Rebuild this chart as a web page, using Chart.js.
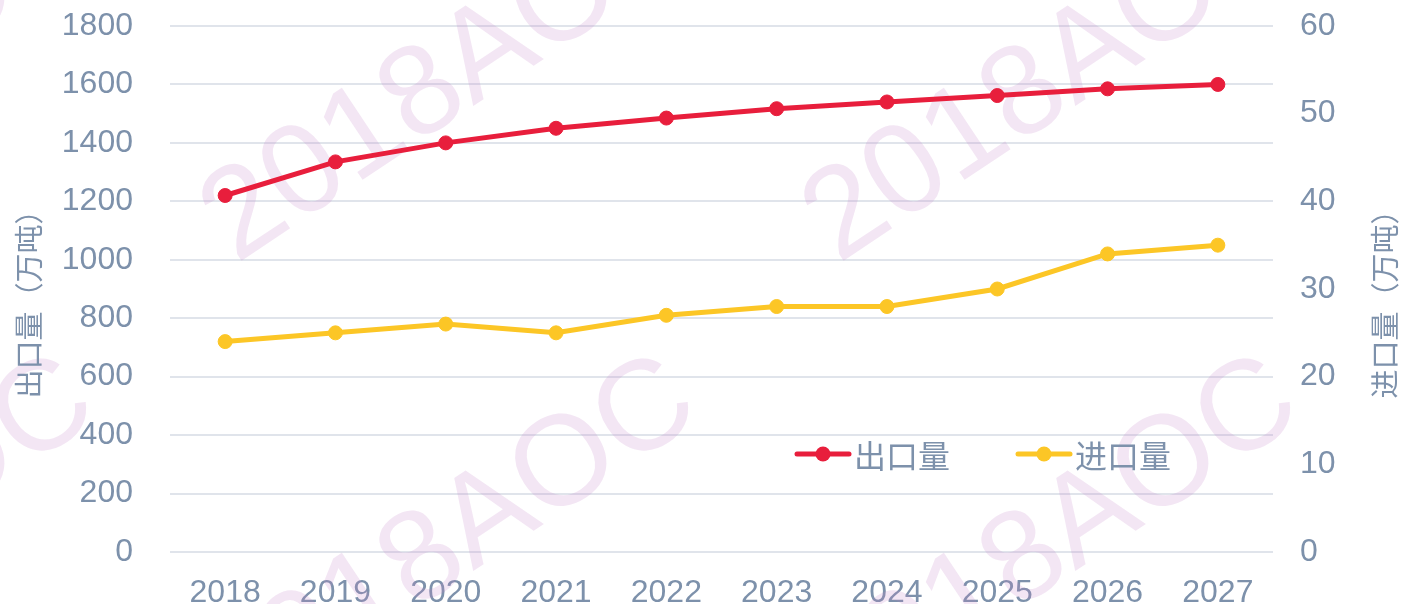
<!DOCTYPE html>
<html>
<head>
<meta charset="utf-8">
<script src="https://cdn.jsdelivr.net/npm/chart.js@4/dist/chart.umd.min.js"></script>
<style>
html,body{margin:0;padding:0;background:#ffffff;}
#wrap{width:1403px;height:604px;position:relative;}
canvas{display:block;}
</style>
</head>
<body>
<div id="wrap"><canvas id="c" width="1403" height="604"></canvas></div>
<script>
// ---- data ----
const categories = ['2018','2019','2020','2021','2022','2023','2024','2025','2026','2027'];
const exportValues = [1220, 1335, 1400, 1450, 1485, 1517, 1540, 1562, 1585, 1600];
const importValues = [24, 25, 26, 25, 27, 28, 28, 30, 34, 35];
const seriesNames = ['出口量', '进口量'];
const leftAxisTitle = '出口量（万吨）';
const rightAxisTitle = '进口量（万吨）';
const leftAxisRange = [0, 1800, 200];
const rightAxisRange = [0, 60, 10];
const watermarkText = '2018AOC';

// ---- style ----
const TEXT_COLOR = '#7d91ab';
const GRID_COLOR = '#e0e4eb';
const RED = '#e81e3c';
const YELLOW = '#fcc626';
const LATIN = '"Liberation Sans", Arial, "Noto Sans CJK SC", sans-serif';
const CJK = '"Noto Sans CJK SC", "Liberation Sans", sans-serif';

const watermarkPlugin = {
  id: 'watermark',
  beforeDatasetsDraw(chart) {
    const ctx = chart.ctx;
    const size = 128;
    const angle = -33.7 * Math.PI / 180;
    const xs = [-184, 418, 1020];
    const ys = [88, 553];
    ctx.save();
    ctx.font = size + 'px ' + LATIN;
    ctx.fillStyle = 'rgba(195,130,200,0.20)';
    ctx.textBaseline = 'alphabetic';
    ctx.textAlign = 'left';
    const w201 = ctx.measureText(watermarkText.slice(0, 3)).width;
    const w8 = ctx.measureText(watermarkText.slice(3, 4)).width;
    for (const x of xs) {
      for (const y of ys) {
        ctx.save();
        ctx.translate(x, y);
        ctx.rotate(angle);
        ctx.fillText(watermarkText, -w201 - w8 / 2, 0.358 * size);
        ctx.restore();
      }
    }
    ctx.restore();
  }
};

const decorPlugin = {
  id: 'decor',
  afterDraw(chart) {
    const ctx = chart.ctx;
    ctx.save();
    // axis titles (both read bottom-to-top)
    ctx.fillStyle = TEXT_COLOR;
    ctx.font = '29px ' + CJK;
    ctx.textAlign = 'center';
    ctx.textBaseline = 'middle';
    const cy = (chart.chartArea.top + chart.chartArea.bottom) / 2 + 8;
    [[29, leftAxisTitle], [1385, rightAxisTitle]].forEach(([x, t]) => {
      ctx.save();
      ctx.translate(x, cy);
      ctx.rotate(-Math.PI / 2);
      ctx.fillText(t, 0, 0);
      ctx.restore();
    });
    // legend
    const items = [795, 1016];
    const ly = 454;
    chart.data.datasets.forEach((ds, i) => {
      const x0 = items[i];
      ctx.strokeStyle = ds.borderColor;
      ctx.lineWidth = 5;
      ctx.lineCap = 'round';
      ctx.beginPath();
      ctx.moveTo(x0 + 2, ly);
      ctx.lineTo(x0 + 54, ly);
      ctx.stroke();
      ctx.fillStyle = ds.borderColor;
      ctx.beginPath();
      ctx.arc(x0 + 28, ly, 7.5, 0, Math.PI * 2);
      ctx.fill();
      ctx.fillStyle = TEXT_COLOR;
      ctx.font = '32px ' + CJK;
      ctx.textAlign = 'left';
      ctx.textBaseline = 'middle';
      ctx.fillText(ds.label, x0 + 59, ly + 2);
    });
    ctx.restore();
  }
};

const tickFont = { family: LATIN, size: 32 };
const plainNumber = (v) => String(v);
function zeroPad(s) { s.paddingTop = 0; s.paddingBottom = 0; s.paddingLeft = 0; s.paddingRight = 0; }

new Chart(document.getElementById('c'), {
  type: 'line',
  data: {
    labels: categories,
    datasets: [
      {
        label: seriesNames[0],
        data: exportValues,
        yAxisID: 'y',
        borderColor: RED,
        backgroundColor: RED,
        pointBackgroundColor: RED,
        pointBorderColor: RED,
        borderWidth: 5,
        pointRadius: 7,
        pointBorderWidth: 1,
        tension: 0
      },
      {
        label: seriesNames[1],
        data: importValues,
        yAxisID: 'y1',
        borderColor: YELLOW,
        backgroundColor: YELLOW,
        pointBackgroundColor: YELLOW,
        pointBorderColor: YELLOW,
        borderWidth: 5,
        pointRadius: 7,
        pointBorderWidth: 1,
        tension: 0
      }
    ]
  },
  options: {
    responsive: false,
    animation: false,
    devicePixelRatio: 1,
    layout: { padding: { top: 26, left: 0, right: 0, bottom: 0 } },
    plugins: {
      legend: { display: false },
      tooltip: { enabled: false },
      title: { display: false }
    },
    scales: {
      x: {
        type: 'category',
        offset: true,
        grid: { display: false, drawTicks: false },
        border: { display: false },
        ticks: { color: TEXT_COLOR, font: tickFont, padding: 22, maxRotation: 0, autoSkip: false },
        afterFit(s) { s.height = 52; zeroPad(s); }
      },
      y: {
        position: 'left',
        min: leftAxisRange[0],
        max: leftAxisRange[1],
        grid: { color: GRID_COLOR, lineWidth: 2, drawTicks: false },
        border: { display: false },
        ticks: { stepSize: leftAxisRange[2], color: TEXT_COLOR, font: tickFont, padding: 37, callback: plainNumber },
        afterFit(s) { s.width = 170; zeroPad(s); }
      },
      y1: {
        position: 'right',
        min: rightAxisRange[0],
        max: rightAxisRange[1],
        grid: { display: false, drawTicks: false },
        border: { display: false },
        ticks: { stepSize: rightAxisRange[2], color: TEXT_COLOR, font: tickFont, padding: 27, callback: plainNumber },
        afterFit(s) { s.width = 130; zeroPad(s); }
      }
    }
  },
  plugins: [watermarkPlugin, decorPlugin]
});
</script>
</body>
</html>
